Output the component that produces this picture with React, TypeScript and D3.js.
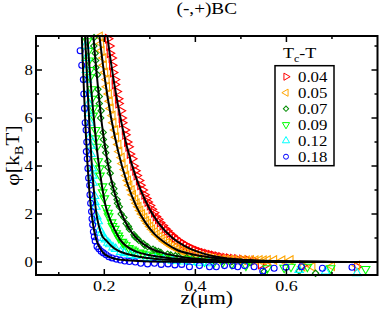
import React from 'react';
import * as d3 from 'd3';

type Pt = [number, number];

// measured points, [z (um), phi (kB T)]
const red: Pt[] = [[0.208,9.3],[0.211,9.0],[0.212,8.7],[0.216,8.5],[0.217,8.2],[0.219,7.9],[0.223,7.6],[0.223,7.4],[0.227,7.1],[0.230,6.8],[0.231,6.6],[0.236,6.3],[0.238,6.0],[0.239,5.8],[0.245,5.5],[0.246,5.3],[0.250,5.0],[0.253,4.8],[0.256,4.5],[0.261,4.3],[0.264,4.0],[0.268,3.8],[0.271,3.6],[0.276,3.4],[0.279,3.2],[0.284,3.0],[0.288,2.8],[0.292,2.65],[0.295,2.5],[0.300,2.35],[0.304,2.2],[0.309,2.05],[0.313,1.9],[0.318,1.78],[0.322,1.65],[0.328,1.52],[0.333,1.4],[0.338,1.3],[0.343,1.2],[0.349,1.1],[0.355,1.0],[0.360,0.92],[0.367,0.84],[0.373,0.76],[0.379,0.7],[0.386,0.63],[0.392,0.57],[0.398,0.52],[0.405,0.47],[0.412,0.42],[0.419,0.38],[0.426,0.34],[0.434,0.30],[0.441,0.27],[0.449,0.24],[0.457,0.21],[0.466,0.18],[0.474,0.16],[0.483,0.14],[0.492,0.12],[0.503,0.10],[0.515,0.08],[0.530,0.06],[0.544,-0.1],[0.555,-0.12],[0.635,-0.15],[0.755,-0.2]];
const orange: Pt[] = [[0.190,9.4],[0.193,9.1],[0.194,8.8],[0.198,8.5],[0.199,8.2],[0.202,7.9],[0.205,7.6],[0.206,7.3],[0.210,7.0],[0.212,6.7],[0.214,6.4],[0.218,6.1],[0.220,5.8],[0.224,5.5],[0.226,5.2],[0.231,4.9],[0.233,4.6],[0.238,4.35],[0.240,4.1],[0.245,3.85],[0.248,3.6],[0.252,3.4],[0.255,3.2],[0.260,3.0],[0.263,2.8],[0.268,2.6],[0.271,2.45],[0.275,2.3],[0.279,2.15],[0.283,2.0],[0.288,1.85],[0.292,1.72],[0.296,1.6],[0.301,1.48],[0.305,1.36],[0.311,1.25],[0.315,1.15],[0.321,1.05],[0.326,0.96],[0.331,0.88],[0.337,0.8],[0.342,0.73],[0.348,0.66],[0.354,0.6],[0.360,0.54],[0.366,0.49],[0.372,0.44],[0.378,0.40],[0.385,0.36],[0.392,0.32],[0.400,0.28],[0.407,0.25],[0.415,0.22],[0.424,0.19],[0.431,0.17],[0.439,0.15],[0.448,0.13],[0.458,0.11],[0.467,0.10],[0.476,0.09],[0.485,0.09],[0.495,0.08],[0.504,0.08],[0.513,0.07],[0.522,0.08],[0.532,0.07],[0.541,0.08],[0.550,0.07],[0.559,0.08],[0.573,0.08],[0.591,0.07],[0.609,0.08],[0.635,-0.2],[0.657,-0.2],[0.700,-0.18],[0.755,-0.15]];
const green: Pt[] = [[0.1775,9.35],[0.177,9.0],[0.180,8.7],[0.181,8.4],[0.1815,8.1],[0.185,7.8],[0.186,7.2],[0.189,6.9],[0.189,6.6],[0.193,6.3],[0.192,6.0],[0.1975,5.4],[0.198,5.1],[0.202,4.8],[0.203,4.55],[0.208,4.2],[0.208,3.95],[0.213,3.7],[0.217,3.25],[0.221,3.05],[0.222,2.85],[0.228,2.6],[0.229,2.45],[0.233,2.3],[0.237,2.0],[0.243,1.85],[0.248,1.6],[0.253,1.48],[0.255,1.37],[0.265,1.14],[0.267,1.05],[0.273,0.97],[0.276,0.9],[0.286,0.76],[0.289,0.7],[0.295,0.64],[0.307,0.53],[0.312,0.48],[0.319,0.44],[0.324,0.4],[0.339,0.33],[0.346,0.29],[0.356,0.26],[0.363,0.23],[0.381,0.18],[0.393,0.15],[0.410,0.12],[0.425,0.09],[0.440,0.06],[0.460,0.04],[0.480,0.02],[0.500,0.0],[0.520,-0.02],[0.551,-0.4],[0.628,-0.38],[0.664,-0.47]];
const lime: Pt[] = [[0.163,9.2],[0.1655,8.8],[0.166,8.4],[0.169,8.0],[0.1685,7.7],[0.172,7.2],[0.1725,6.8],[0.176,6.4],[0.1755,6.1],[0.181,5.5],[0.181,5.15],[0.184,4.8],[0.1865,4.2],[0.190,3.9],[0.1905,3.6],[0.196,3.15],[0.1965,2.9],[0.200,2.65],[0.2035,2.25],[0.208,2.05],[0.2095,1.9],[0.216,1.65],[0.218,1.5],[0.223,1.38],[0.226,1.2],[0.2305,1.1],[0.232,1.0],[0.2395,0.84],[0.242,0.77],[0.247,0.7],[0.254,0.58],[0.261,0.52],[0.265,0.47],[0.277,0.39],[0.284,0.35],[0.294,0.31],[0.309,0.25],[0.320,0.22],[0.331,0.19],[0.352,0.15],[0.366,0.13],[0.381,0.11],[0.400,0.06],[0.420,0.02],[0.440,-0.05],[0.460,-0.02],[0.480,-0.08],[0.511,-0.15],[0.558,-0.26],[0.595,-0.24],[0.610,-0.2],[0.646,-0.2],[0.697,-0.26],[0.774,-0.29]];
const cyan: Pt[] = [[0.1585,9.0],[0.160,8.5],[0.1605,8.0],[0.1625,7.6],[0.163,7.0],[0.1655,6.6],[0.1655,6.2],[0.168,5.8],[0.168,5.2],[0.1705,4.85],[0.1705,4.5],[0.1735,3.9],[0.1745,3.6],[0.175,3.3],[0.1785,2.75],[0.179,2.5],[0.1815,2.3],[0.1835,1.9],[0.1865,1.7],[0.190,1.35],[0.1935,1.22],[0.199,1.0],[0.2025,0.94],[0.208,0.8],[0.212,0.74],[0.219,0.61],[0.225,0.54],[0.236,0.42],[0.244,0.37],[0.258,0.29],[0.269,0.25],[0.294,0.17],[0.312,0.13],[0.330,0.09],[0.350,0.05],[0.370,0.02],[0.390,0.0],[0.410,-0.03],[0.430,-0.05],[0.628,-0.33],[0.686,-0.4],[0.755,-0.47]];
const blue: Pt[] = [[0.147,8.8],[0.1505,8.2],[0.154,7.6],[0.155,7.0],[0.1565,6.4],[0.158,5.8],[0.160,5.5],[0.1615,5.0],[0.1605,4.6],[0.1625,4.3],[0.164,3.9],[0.1655,3.5],[0.168,3.2],[0.1685,2.8],[0.170,2.45],[0.172,2.1],[0.173,1.8],[0.1745,1.55],[0.176,1.26],[0.178,1.05],[0.180,0.88],[0.184,0.65],[0.188,0.55],[0.193,0.45],[0.198,0.38],[0.204,0.3],[0.210,0.22],[0.217,0.17],[0.226,0.12],[0.235,0.08],[0.245,0.04],[0.255,0.02],[0.268,0.0],[0.280,-0.05],[0.295,-0.08],[0.310,-0.05],[0.325,-0.1],[0.340,-0.08],[0.355,-0.12],[0.370,-0.1],[0.387,-0.2],[0.409,-0.15],[0.431,-0.2],[0.446,-0.2],[0.464,-0.15],[0.482,-0.15],[0.493,-0.2],[0.508,-0.15],[0.529,-0.2],[0.548,-0.38],[0.573,-0.26],[0.599,-0.22],[0.633,-0.2],[0.679,-0.26],[0.744,-0.22]];

// fitted curves
const fitRed: Pt[] = [[0.200,10.45],[0.2066,9.42],[0.22,7.64],[0.24,5.59],[0.26,4.09],[0.28,2.99],[0.30,2.19],[0.32,1.60],[0.35,1.00],[0.38,0.63],[0.42,0.34],[0.46,0.18],[0.52,0.07],[0.60,0.02],[0.70,0.005],[0.80,0]];
const fitOrange: Pt[] = [[0.185,10.1],[0.20,7.8],[0.215,6.0],[0.23,4.64],[0.25,3.3],[0.27,2.33],[0.29,1.65],[0.31,1.17],[0.335,0.78],[0.36,0.5],[0.39,0.33],[0.43,0.2],[0.48,0.11],[0.55,0.05],[0.65,0.015],[0.80,0]];
const fitGreen: Pt[] = [[0.170,11.0],[0.176,9.42],[0.185,7.5],[0.195,5.7],[0.205,4.4],[0.215,3.45],[0.225,2.72],[0.235,2.15],[0.245,1.72],[0.26,1.24],[0.28,0.83],[0.30,0.58],[0.33,0.37],[0.37,0.21],[0.43,0.09],[0.50,0.035],[0.60,0.01],[0.80,0]];
const fitLime: Pt[] = [[0.158,11.0],[0.1628,9.42],[0.170,7.5],[0.178,5.8],[0.185,4.5],[0.193,3.4],[0.2015,2.45],[0.212,1.8],[0.224,1.3],[0.235,0.92],[0.25,0.64],[0.27,0.43],[0.30,0.28],[0.34,0.17],[0.40,0.09],[0.48,0.04],[0.60,0.01],[0.80,0]];
const fitCyan: Pt[] = [[0.153,11.5],[0.1578,9.42],[0.163,7.3],[0.168,5.5],[0.172,4.2],[0.177,3.0],[0.182,2.1],[0.188,1.5],[0.195,1.1],[0.205,0.88],[0.215,0.68],[0.23,0.47],[0.25,0.33],[0.28,0.21],[0.33,0.1],[0.40,0.04],[0.50,0.01],[0.80,0]];
const fitBlue: Pt[] = [[0.147,12],[0.1506,9.42],[0.155,7.3],[0.159,5.5],[0.163,4.1],[0.167,3.0],[0.171,2.2],[0.175,1.6],[0.18,1.1],[0.186,0.74],[0.193,0.5],[0.20,0.34],[0.21,0.22],[0.225,0.13],[0.25,0.07],[0.30,0.02],[0.40,0.005],[0.80,0]];

const legendLabels = ['0.04', '0.05', '0.07', '0.09', '0.12', '0.18'];
const xMajor = [0.2, 0.4, 0.6];
const xMinor = [0.1, 0.3, 0.5, 0.7];
const yMajor = [0, 2, 4, 6, 8];
const yMinor = [1, 3, 5, 7, 9];

const series = [
  { data: red, fit: fitRed, color: '#ff0000', shape: d3.symbolTriangle, rot: 90, size: 32 },
  { data: orange, fit: fitOrange, color: '#ffa500', shape: d3.symbolTriangle, rot: -90, size: 32 },
  { data: green, fit: fitGreen, color: '#008b00', shape: d3.symbolSquare, rot: 45, size: 20 },
  { data: lime, fit: fitLime, color: '#00ff00', shape: d3.symbolTriangle, rot: 180, size: 32 },
  { data: cyan, fit: fitCyan, color: '#00ffff', shape: d3.symbolTriangle, rot: 0, size: 32 },
  { data: blue, fit: fitBlue, color: '#0000ff', shape: d3.symbolCircle, rot: 0, size: 28 },
];

const FONT = '"Liberation Serif", "Times New Roman", serif';
const SX = 1.2; // glyphs in the source are a bit wide

const Txt = ({ x, y, size, anchor = 'start', rotate = 0, children }: any) => (
  <text
    transform={`translate(${x},${y}) rotate(${rotate}) scale(${SX},1)`}
    fontSize={size}
    fontFamily={FONT}
    textAnchor={anchor}
    fill="#000"
  >
    {children}
  </text>
);

export default function App() {
  const W = 379, H = 312;
  const x = d3.scaleLinear().domain([0.05, 0.8]).range([36, 377.5]);
  const y = d3.scaleLinear().domain([-0.5417, 9.417]).range([275, 36]);
  const [x0, x1] = x.range();
  const [y0, y1] = y.range();

  const line = d3.line<Pt>()
    .x(d => x(d[0]))
    .y(d => y(d[1]))
    .curve(d3.curveMonotoneX);

  const inView = (d: Pt) => d[1] <= 9.45 && d[1] >= -0.54;

  return (
    <svg width={W} height={H} style={{ position: 'absolute', left: 0, top: 0, background: '#fff' }}>
      <defs>
        <clipPath id="plotClip">
          <rect x={x0} y={y1} width={x1 - x0} height={y0 - y1} />
        </clipPath>
      </defs>
      <rect width={W} height={H} fill="#fff" />

      {/* data symbols */}
      {series.map((s, i) => {
        const p = d3.symbol().type(s.shape).size(s.size)();
        return (
          <g key={i} fill="none" stroke={s.color} strokeWidth={1.1}>
            {s.data.filter(inView).map((d, j) => (
              <path key={j} d={p as string} transform={`translate(${x(d[0])},${y(d[1])}) rotate(${s.rot})`} />
            ))}
          </g>
        );
      })}

      {/* fits */}
      <g clipPath="url(#plotClip)" fill="none" stroke="#000" strokeWidth={2}>
        {series.map((s, i) => (
          <path key={i} d={line(s.fit) as string} />
        ))}
      </g>

      {/* frame and ticks */}
      <rect x={x0} y={y1} width={x1 - x0} height={y0 - y1} fill="none" stroke="#000" strokeWidth={2} />
      <g stroke="#000" strokeWidth={1.5}>
        {xMajor.map(v => (
          <g key={'xM' + v}>
            <line x1={x(v)} x2={x(v)} y1={y0} y2={y0 - 6} />
            <line x1={x(v)} x2={x(v)} y1={y1} y2={y1 + 6} />
          </g>
        ))}
        {xMinor.map(v => (
          <g key={'xm' + v}>
            <line x1={x(v)} x2={x(v)} y1={y0} y2={y0 - 3} />
            <line x1={x(v)} x2={x(v)} y1={y1} y2={y1 + 3} />
          </g>
        ))}
        {yMajor.map(v => (
          <g key={'yM' + v}>
            <line x1={x0} x2={x0 + 6} y1={y(v)} y2={y(v)} />
            <line x1={x1} x2={x1 - 6} y1={y(v)} y2={y(v)} />
          </g>
        ))}
        {yMinor.map(v => (
          <g key={'ym' + v}>
            <line x1={x0} x2={x0 + 3} y1={y(v)} y2={y(v)} />
            <line x1={x1} x2={x1 - 3} y1={y(v)} y2={y(v)} />
          </g>
        ))}
      </g>

      {/* tick labels */}
      {xMajor.map(v => (
        <Txt key={'xl' + v} x={x(v)} y={y0 + 16} size={15} anchor="middle">{d3.format('.1f')(v)}</Txt>
      ))}
      {yMajor.map(v => (
        <Txt key={'yl' + v} x={33} y={y(v) + 5} size={14} anchor="end">{v}</Txt>
      ))}

      {/* titles */}
      <Txt x={(x0 + x1) / 2} y={14} size={16} anchor="middle">(-,+)BC</Txt>
      <Txt x={(x0 + x1) / 2} y={304} size={18} anchor="middle">z(μm)</Txt>
      <text transform={`translate(19,${(y0 + y1) / 2}) rotate(-90) scale(${SX},1)`} fontSize={18} fontFamily={FONT} textAnchor="middle">
        φ[k<tspan fontSize={12} dy={4}>B</tspan><tspan dy={-4}>T]</tspan>
      </text>

      {/* legend */}
      <Txt x={283} y={58} size={15}>
        T<tspan fontSize={10} dy={4}>c</tspan><tspan dy={-4}>-T</tspan>
      </Txt>
      <rect x={275} y={65.7} width={59} height={100} fill="#fff" stroke="#000" strokeWidth={1.5} />
      {series.map((s, i) => {
        const p = d3.symbol().type(s.shape).size(s.size * 0.7)();
        const by = 81.7 + i * 16;
        return (
          <g key={'lg' + i}>
            <path d={p as string} transform={`translate(286,${by - 5}) rotate(${s.rot})`} fill="none" stroke={s.color} strokeWidth={1} />
            <Txt x={298} y={by} size={14}>{legendLabels[i]}</Txt>
          </g>
        );
      })}
    </svg>
  );
}
